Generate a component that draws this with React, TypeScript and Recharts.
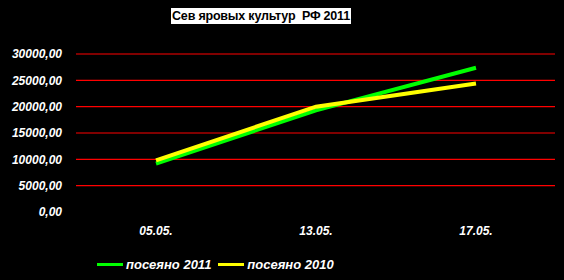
import React from "react";
import { LineChart, Line, XAxis, YAxis, CartesianGrid } from "recharts";

const categories = ["05.05.", "13.05.", "17.05."];
const sown2011 = [9200, 19300, 27400];
const sown2010 = [9800, 20000, 24400];
const yTicks = [0, 5000, 10000, 15000, 20000, 25000, 30000];
const gridValues = [5000, 10000, 15000, 20000, 25000, 30000];
const seriesNames = ["посеяно 2011", "посеяно 2010"];
const title = "Сев яровых культур  РФ 2011";

const data = categories.map((c, i) => ({ date: c, s2011: sown2011[i], s2010: sown2010[i] }));

const fmt = (v: number) => v.toFixed(2).replace(".", ",");

const font = "'Liberation Sans', Arial, sans-serif";

export default function App() {
  return (
    <div style={{ position: "absolute", left: 0, top: 0, width: 564, height: 280, background: "#000", overflow: "hidden" }}>
      <div style={{ position: "absolute", left: 171, top: 8, width: 180, height: 16, background: "#fff", color: "#000", fontFamily: font, fontWeight: "bold", fontSize: 12.5, lineHeight: "16px", textAlign: "center", whiteSpace: "pre", letterSpacing: -0.2 }}>
        {title}
      </div>
      <LineChart width={564} height={280} data={data} margin={{ top: 54, right: 9, left: 0, bottom: 28 }}>
        <CartesianGrid vertical={false} stroke="#ff0000" strokeWidth={1.2} horizontalValues={gridValues} />
        <XAxis
          dataKey="date"
          axisLine={false}
          tickLine={false}
          tickSize={0}
          tickMargin={14}
          height={40}
          padding={{ left: 80, right: 79 }}
          tick={{ fill: "#fff", fontFamily: font, fontWeight: "bold", fontStyle: "italic", fontSize: 12 }}
        />
        <YAxis
          domain={[0, 30000]}
          ticks={yTicks}
          tickFormatter={fmt}
          axisLine={false}
          tickLine={false}
          tickSize={0}
          tickMargin={14}
          width={76}
          interval={0}
          tick={{ fill: "#fff", fontFamily: font, fontWeight: "bold", fontStyle: "italic", fontSize: 12 }}
        />
        <Line dataKey="s2011" name={seriesNames[0]} stroke="#00ff00" strokeWidth={4} dot={false} isAnimationActive={false} />
        <Line dataKey="s2010" name={seriesNames[1]} stroke="#ffff00" strokeWidth={4} dot={false} isAnimationActive={false} />
      </LineChart>
      <div style={{ position: "absolute", left: 97, top: 257, display: "flex", alignItems: "center", fontFamily: font, fontWeight: "bold", fontStyle: "italic", fontSize: 13, color: "#fff", whiteSpace: "nowrap" }}>
        <span style={{ display: "inline-block", width: 26, height: 3, background: "#00ff00", marginRight: 3 }} />
        <span style={{ marginRight: 7 }}>{seriesNames[0]}</span>
        <span style={{ display: "inline-block", width: 26, height: 3, background: "#ffff00", marginRight: 3 }} />
        <span>{seriesNames[1]}</span>
      </div>
    </div>
  );
}
